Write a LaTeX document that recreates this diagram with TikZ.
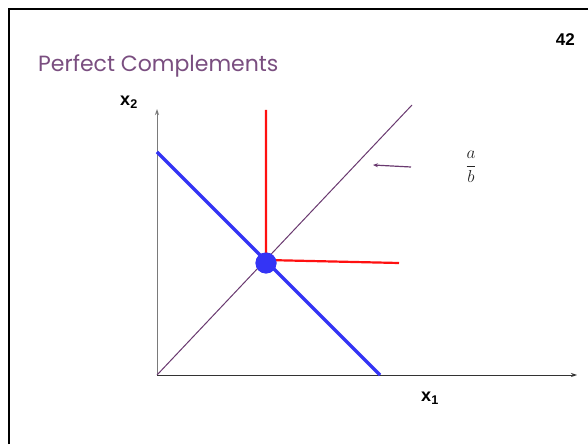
\documentclass[tikz,border=0pt]{standalone}
\usepackage{fontspec}
\setmainfont{Liberation Sans}
\newfontfamily\titlefont{Poppins}
\usepackage{xcolor}
\usetikzlibrary{arrows.meta}

\begin{document}
\begin{tikzpicture}[x=1pt,y=1pt]

% Colori
\definecolor{colTitle}{HTML}{7A4E80}
\definecolor{colDiag}{HTML}{6A3A70}
\definecolor{colBlue}{HTML}{3434F5}
\definecolor{colRed}{HTML}{FF1010}
\definecolor{axisGray}{HTML}{7A7A7A}

\tikzset{
  axis/.style={axisGray, line width=0.9pt, -{Stealth[length=6pt,width=4pt]}},
  lbl/.style={font=\bfseries\fontsize{18}{20}\selectfont, inner sep=0pt}
}

% Cornice
\useasboundingbox (0,0) rectangle (588,444);
\fill[white] (0,0) rectangle (588,444);
\draw[line width=2.2pt] (9,0) -- (9,435) -- (588,435);

% Titolo e numero
\node[anchor=base west, font=\titlefont\fontsize{22}{26}\selectfont, text=colTitle, inner sep=0pt] (titolo) at (38,372) {Perfect Complements};
\node[anchor=base east, font=\bfseries\fontsize{17}{19}\selectfont, inner sep=0pt] (pagina) at (575,398) {42};

% Assi
\coordinate (O) at (157,69);
\coordinate (Xend) at (577,69);
\coordinate (Yend) at (157,335);
\draw[axis] (O) -- (Yend);
\draw[axis, black!80] (O) -- (Xend);
\node[lbl] (x2) at (129,342) {x\textsubscript{2}};
\node[lbl] (x1) at (430,46) {x\textsubscript{1}};

% Retta a/b
\coordinate (D) at (412,339);
\draw[colDiag, line width=1pt] (O) -- (D);

% Vincolo di bilancio
\coordinate (B1) at (157,292);
\coordinate (B2) at (380,69);
\draw[colBlue, line width=3.5pt] (B1) -- (B2);

% Curva di indifferenza
\coordinate (Rtop) at (266,334);
\coordinate (Rright) at (399,181);
\node[circle, fill=colBlue, minimum size=21pt, inner sep=0pt] (ottimo) at (266,181) {};
\draw[colRed, line width=2.2pt] (Rtop) -- (ottimo.center) -- ++(0,3) -- (Rright);
\node[circle, fill=colBlue, minimum size=21pt, inner sep=0pt] at (ottimo) {};

% Etichetta pendenza
\node[font=\fontsize{17}{19}\selectfont, inner sep=0pt, text=black!85] (ab) at (471,277) {$\displaystyle\frac{a}{b}$};
\coordinate (Astart) at (411,277);
\coordinate (Aend) at (373,279);
\draw[colDiag, line width=1.2pt, -{Stealth[length=5pt,width=4pt]}] (Astart) -- (Aend);

\end{tikzpicture}
\end{document}
